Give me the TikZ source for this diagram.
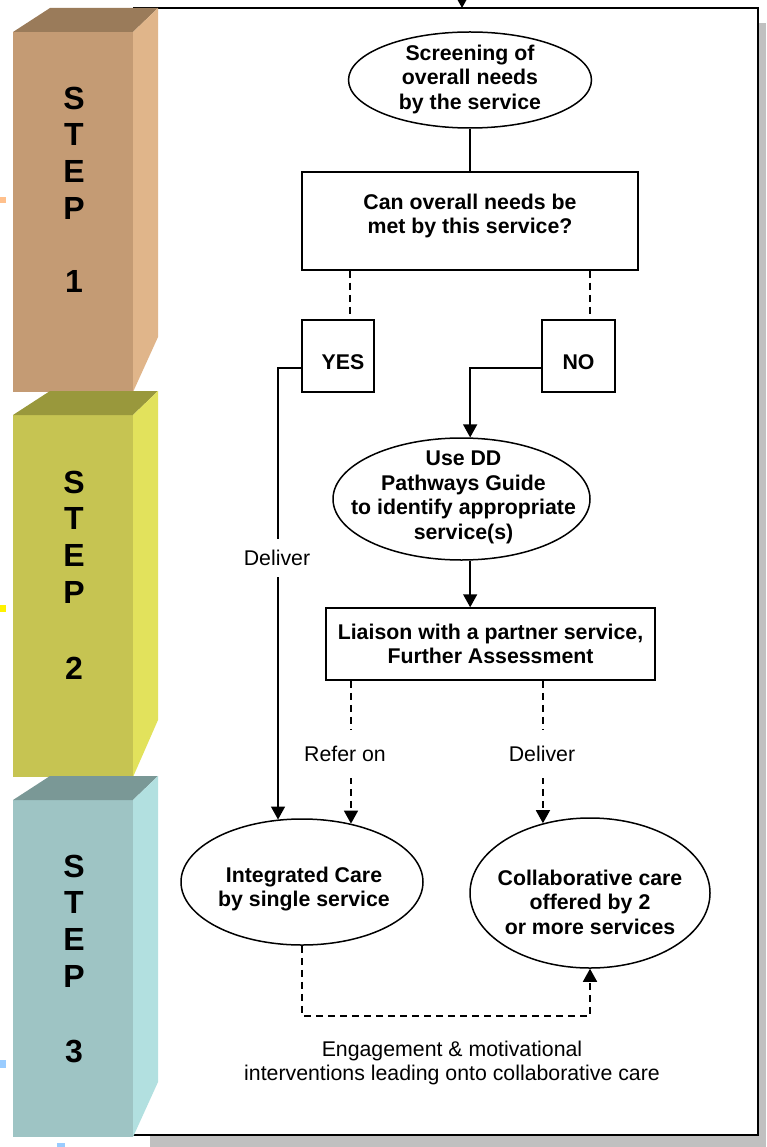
\documentclass[tikz,border=0pt]{standalone}
\usepackage{fontspec}
\setmainfont{Liberation Sans}
\usetikzlibrary{arrows.meta,shapes.geometric}
\definecolor{shadowgray}{RGB}{192,192,192}
\definecolor{sAf}{RGB}{196,155,116}
\definecolor{sAt}{RGB}{154,123,90}
\definecolor{sAr}{RGB}{224,181,138}
\definecolor{sBf}{RGB}{198,196,82}
\definecolor{sBt}{RGB}{153,152,60}
\definecolor{sBr}{RGB}{226,226,92}
\definecolor{sCf}{RGB}{158,196,196}
\definecolor{sCt}{RGB}{122,152,150}
\definecolor{sCr}{RGB}{178,224,224}
\definecolor{markorange}{RGB}{255,192,140}
\definecolor{markblue}{RGB}{153,204,255}
\newcommand\mystepbox[6]{%
  \fill[#4] (13,#1) rectangle (133,#2);
  \fill[#5] (13,#1) -- (50,#1-24) -- (158,#1-24) -- (133,#1) -- cycle;
  \fill[#6] (133,#1) -- (158,#1-24) -- (158,#3) -- (133,#2) -- cycle;
}
\begin{document}
\begin{tikzpicture}[x=1pt,y=-1pt,
  every node/.style={font=\fontsize{21.3}{24.5}\selectfont},
  bx/.style={draw, line width=1.5pt, fill=white, inner sep=0pt},
  el/.style={draw, ellipse, line width=1.5pt, fill=white, inner sep=0pt},
  bold/.style={font=\fontsize{21.3}{24.5}\selectfont\bfseries, align=center},
  lbl/.style={font=\fontsize{21.3}{24.5}\selectfont, fill=white, inner xsep=2pt, inner ysep=11pt},
  con/.style={line width=1.5pt},
  arr/.style={line width=1.5pt, -{Triangle[width=14pt,length=13pt]}},
  dsh/.style={line width=1.5pt, dash pattern=on 7pt off 5pt},
  darr/.style={dsh, -{Triangle[width=14pt,length=13pt]}},
  steplbl/.style={font=\fontsize{32}{36}\selectfont\bfseries, anchor=base, inner sep=0pt}]
\useasboundingbox (0,0) rectangle (766,1147);

% shadow and frame
\fill[shadowgray] (150,23) rectangle (766,1147);
\fill[white] (133,8) rectangle (758,1135);
\draw[line width=1.8pt] (133,8) -- (758,8) -- (758,1135) -- (133,1135);

% entry arrow
\coordinate (entryA) at (462,-20);
\coordinate (entryB) at (462,8);
\draw[arr] (entryA) -- (entryB);

% step boxes
\mystepbox{32}{392}{337}{sAf}{sAt}{sAr}
\mystepbox{415}{777}{720}{sBf}{sBt}{sBr}
\mystepbox{800}{1137}{1082}{sCf}{sCt}{sCr}
\foreach \ch/\yy [count=\i] in {S/109.5,T/145.5,E/182.5,P/219.5,1/292.5}
  \node[steplbl] (sa\i) at (74,\yy) {\ch};
\foreach \ch/\yy [count=\i] in {S/493.5,T/529.5,E/566.5,P/603.5,2/679}
  \node[steplbl] (sb\i) at (74,\yy) {\ch};
\foreach \ch/\yy [count=\i] in {S/877.5,T/913.5,E/950.5,P/987.5,3/1062.5}
  \node[steplbl] (sc\i) at (74,\yy) {\ch};

% small marks at left
\fill[markorange] (0,197) rectangle (6,203);
\fill[yellow] (0,605) rectangle (6,612);
\fill[markblue] (0,1060) rectangle (6,1068);
\fill[markblue] (57,1143) rectangle (65,1147);

% main nodes
\node[el, minimum width=243pt, minimum height=96pt] (ell1) at (470,80) {};
\node[bold] (t1) at (470,79) {Screening of\\overall needs\\by the service};
\node[bx, minimum width=336pt, minimum height=98pt, bold, text depth=14.5pt] (r1) at (470,221) {Can overall needs be\\met by this service?};
\node[bx, minimum width=72pt, minimum height=72pt, bold, text height=27pt, text depth=0pt] (yes) at (338,356) {\hspace*{10pt}YES};
\node[bx, minimum width=73pt, minimum height=72pt, bold, text height=27pt, text depth=0pt] (no) at (578.5,356) {NO};
\node[el, minimum width=257pt, minimum height=122pt] (ell2) at (461.5,499) {};
\node[bold] (t2) at (463.5,497.5) {Use DD\\Pathways Guide\\to identify appropriate\\service(s)};
\node[bx, minimum width=329pt, minimum height=72pt, bold] (r3) at (490.5,644) {Liaison with a partner service,\\Further Assessment};
\node[el, minimum width=242pt, minimum height=126pt] (ell3) at (302,882) {};
\node[bold] (t3) at (304,889) {Integrated Care\\by single service};
\node[el, minimum width=240pt, minimum height=150pt] (ell4) at (590,893) {};
\node[bold] (t4) at (590,902) {Collaborative care\\offered by 2\\or more services};

% connectors
\draw[con] (ell1.south) -- (ell1.south |- r1.north);
\draw[dsh] ([xshift=12pt]yes.north |- r1.south) -- ([xshift=12pt]yes.north);
\draw[dsh] ([xshift=11.5pt]no.north |- r1.south) -- ([xshift=11.5pt]no.north);
\draw[arr] ([yshift=-12pt]yes.west) -| (ell3.111.24);
\draw[arr] ([yshift=-12pt]no.west) -| (ell2.82);
\draw[arr] (ell2.-82) -- (ell2.-82 |- r3.north);
\draw[darr] (ell3.50.3 |- r3.south) -- (ell3.50.3);
\draw[darr] (ell4.124.93 |- r3.south) -- (ell4.124.93);
\draw[darr] (ell3.south) -- ++(0,70) -| (ell4.south);

% labels
\node[lbl] (dl1) at (277,558) {Deliver};
\node[lbl, inner ysep=16pt] (ro) at (345,754) {Refer on};
\node[lbl, inner ysep=16pt] (dl2) at (542,754) {Deliver};
\node[align=center] (eng) at (452,1063) {Engagement \& motivational\\interventions leading onto collaborative care};
\end{tikzpicture}
\end{document}
